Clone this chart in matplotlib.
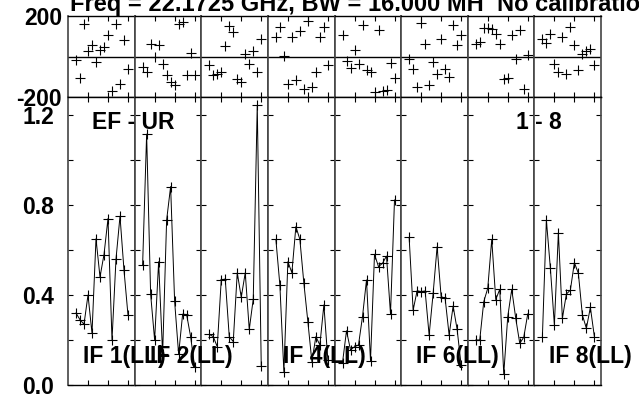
import matplotlib
matplotlib.use("Agg")
import matplotlib.pyplot as plt

# channel numbers plotted in every IF panel
channels = list(range(2, 16))

amp_if1 = [0.32, 0.29, 0.27, 0.40, 0.23, 0.65, 0.48, 0.58, 0.74, 0.20, 0.56, 0.75, 0.51, 0.31]
amp_if2 = [0.535, 1.115, 0.404, 0.20, 0.548, 0.137, 0.733, 0.882, 0.372, 0.137, 0.315, 0.313, 0.215, 0.081]
amp_if3 = [0.225, 0.215, 0.17, 0.467, 0.471, 0.215, 0.193, 0.499, 0.39, 0.499, 0.247, 0.382, 1.244, 0.084]
amp_if4 = [0.647, 0.444, 0.059, 0.548, 0.499, 0.704, 0.647, 0.452, 0.281, 0.104, 0.215, 0.178, 0.356, 0.111]
amp_if5 = [0.099, 0.241, 0.156, 0.17, 0.178, 0.304, 0.467, 0.108, 0.581, 0.526, 0.541, 0.573, 0.316, 0.822]
amp_if6 = [0.656, 0.333, 0.419, 0.415, 0.418, 0.222, 0.407, 0.615, 0.393, 0.385, 0.222, 0.351, 0.247, 0.089]
amp_if7 = [0.2, 0.2, 0.37, 0.43, 0.647, 0.38, 0.425, 0.049, 0.304, 0.425, 0.296, 0.185, 0.212, 0.316]
amp_if8 = [0.212, 0.733, 0.519, 0.267, 0.677, 0.296, 0.404, 0.422, 0.544, 0.496, 0.311, 0.252, 0.345, 0.215]

phase_if1 = [-19, -106, 162, 25, 55, -27, 30, 47, 105, -170, 162, -134, 80, -60]
phase_if2 = [-52, -77, 60, -2, 55, -35, -90, -126, -142, 162, 170, -93, 19, -93]
phase_if3 = [-44, -90, -85, -77, 50, 151, 121, -109, -126, 14, -35, 26, -77, 85]
phase_if4 = [96, 146, 2, -134, 96, -118, 124, -162, 174, -150, -77, 96, 146, -40]
phase_if5 = [105, -24, -57, 30, -35, 157, -68, -77, -175, 129, -172, -167, -30, -106]
phase_if6 = [-11, -63, -150, 167, 63, -142, -27, -85, 85, -60, -101, 154, 58, 105]
phase_if7 = [60, 72, 141, 141, 137, 113, 60, -109, -106, 105, -11, 129, -159, 9]
phase_if8 = [85, 68, 113, -35, -77, 96, -85, 146, 55, -68, 14, 26, 39, -44]

amps = [amp_if1, amp_if2, amp_if3, amp_if4, amp_if5, amp_if6, amp_if7, amp_if8]
phases = [phase_if1, phase_if2, phase_if3, phase_if4, phase_if5, phase_if6, phase_if7, phase_if8]
if_labels = ["IF 1(LL)", "IF 2(LL)", "", "IF 4(LL)", "", "IF 6(LL)", "", "IF 8(LL)"]

title = "Freq = 22.1725 GHz, BW = 16.000 MH  No calibration"
baseline_label = "EF - UR"
range_label = "1 - 8"

amp_ticks = [0.0, 0.2, 0.4, 0.6, 0.8, 1.0, 1.2]
amp_ticklabels = ["0.0", "", "0.4", "", "0.8", "", "1.2"]
phase_ticks = [-200, 200]
phase_ticklabels = ["-200", "200"]

plt.rcParams["font.family"] = ["Liberation Sans", "DejaVu Sans"]
plt.rcParams["font.weight"] = "bold"

W, H = 639, 397
fig = plt.figure(figsize=(W / 100, H / 100), dpi=100)


def fx(px):
    return px / W


def fy(py):
    return 1 - py / H


x0, x1 = 68, 601
pw = (x1 - x0) / 8
ph_top, ph_bot = 16, 97
am_top, am_bot = 97, 385
fs = 16.5

for i in range(8):
    left = x0 + i * pw
    axp = fig.add_axes([fx(left), fy(ph_bot), pw / W, (ph_bot - ph_top) / H])
    axa = fig.add_axes([fx(left), fy(am_bot), pw / W, (am_bot - am_top) / H])

    axp.plot(channels, phases[i], ls="none", marker="+", ms=7.5, mew=0.8, color="black")
    axp.axhline(0, color="black", lw=1.0)
    axp.set_ylim(-200, 200)

    axa.plot(channels, amps[i], color="black", lw=0.7, marker="+", ms=7.5, mew=0.8)
    axa.set_ylim(0, 1.28)

    for ax in (axp, axa):
        ax.set_xlim(0, pw / 4)
        ax.set_xticks([5, 10, 15])
        ax.tick_params(axis="x", direction="in", top=True, bottom=True,
                       length=3.6, width=0.8, labelbottom=False)
        for s in ax.spines.values():
            s.set_linewidth(1.0)
            s.set_color("black")
        for s in ("left", "right"):
            ax.spines[s].set_color("#444444")
            ax.spines[s].set_linewidth(1.2)

    axa.set_yticks(amp_ticks)
    axa.tick_params(axis="y", direction="in", left=True, right=True,
                    length=3.6, width=0.8, pad=10, labelsize=fs)
    axp.set_yticks(phase_ticks)
    axp.tick_params(axis="y", length=0, pad=4.3, labelsize=fs)
    if i == 0:
        axa.set_yticklabels(amp_ticklabels, fontweight="bold")
        axp.set_yticklabels(phase_ticklabels, fontweight="bold")
    else:
        axa.set_yticklabels([])
        axp.set_yticklabels([])

    if if_labels[i]:
        fig.text(fx(left + 15), fy(356), if_labels[i], fontsize=fs, fontweight="bold",
                 ha="left", va="center")

fig.text(fx(92), fy(122), baseline_label, fontsize=fs, fontweight="bold", ha="left", va="center")
fig.text(fx(562), fy(122), range_label, fontsize=fs, fontweight="bold", ha="right", va="center")
fig.text(fx(70), fy(11), title, fontsize=17, fontweight="bold", ha="left", va="baseline")

fig.savefig("out.png", dpi=100)
